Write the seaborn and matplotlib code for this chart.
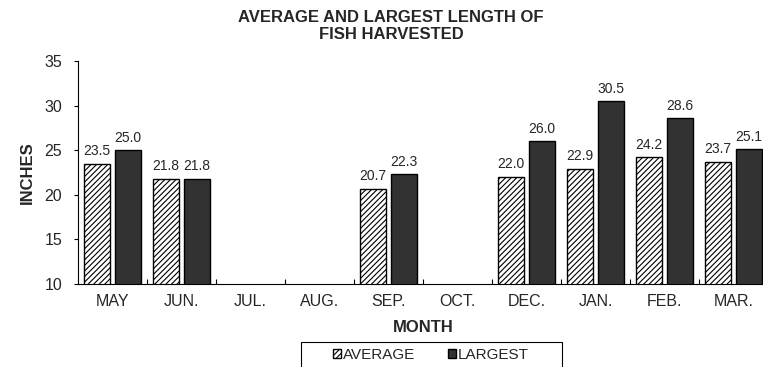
import numpy as np
import pandas as pd
import matplotlib
matplotlib.use("Agg")
import matplotlib.pyplot as plt
import seaborn as sns
from matplotlib.ticker import FixedLocator
from matplotlib.patches import Rectangle

months = ["MAY", "JUN.", "JUL.", "AUG.", "SEP.", "OCT.", "DEC.", "JAN.", "FEB.", "MAR."]
average = [23.5, 21.8, np.nan, np.nan, 20.7, np.nan, 22.0, 22.9, 24.2, 23.7]
largest = [25.0, 21.8, np.nan, np.nan, 22.3, np.nan, 26.0, 30.5, 28.6, 25.1]
series = ["AVERAGE", "LARGEST"]
yticks = [10, 15, 20, 25, 30, 35]

df = pd.DataFrame({
    "MONTH": months * 2,
    "INCHES": average + largest,
    "SERIES": [series[0]] * len(months) + [series[1]] * len(months),
})

sns.set_theme(style="white")
plt.rcParams["font.family"] = ["Liberation Sans", "DejaVu Sans"]
plt.rcParams["hatch.linewidth"] = 0.8

W, H = 763, 367
fig = plt.figure(figsize=(W / 100, H / 100), dpi=100)
ax = fig.add_axes([78 / W, 1 - 284 / H, 690 / W, (284 - 61) / H])

sns.barplot(data=df, x="MONTH", y="INCHES", hue="SERIES", order=months,
            hue_order=series, palette=["white", "#323232"], width=0.894,
            gap=0.172, edgecolor="black", linewidth=1.0, ax=ax,
            legend=False, errorbar=None)

for p in ax.containers[0]:
    p.set_hatch("//////")
    p.set_facecolor("white")

for c in ax.containers:
    ax.bar_label(c, fmt="%.1f", padding=4, fontsize=10)

ax.set_ylim(10, 35)
ax.set_yticks(yticks)
ax.set_xlim(-0.5, len(months) - 0.5)
ax.tick_params(axis="y", which="major", direction="out", length=3, width=0.8,
               left=True, labelsize=11.5, pad=8.5, color="black")
ax.tick_params(axis="x", which="major", length=0, labelsize=11.5, pad=7)
ax.xaxis.set_minor_locator(FixedLocator(np.arange(0.5, len(months) - 0.5, 1)))
ax.tick_params(axis="x", which="minor", direction="in", length=3.5, width=0.8,
               bottom=True, color="black")

for s in ["top", "right"]:
    ax.spines[s].set_visible(False)
for s in ["left", "bottom"]:
    ax.spines[s].set_color("black")
    ax.spines[s].set_linewidth(0.8)

ax.set_xlabel("MONTH", fontsize=12, fontweight="bold", labelpad=8)
ax.set_ylabel("INCHES", fontsize=12, fontweight="bold", labelpad=7)

fig.text(391 / W, 1 - 10 / H, "AVERAGE AND LARGEST LENGTH OF\nFISH HARVESTED",
         ha="center", va="top", fontsize=12, fontweight="bold", linespacing=1.14)

# legend frame (runs past the bottom edge, as in the reference)
fig.patches.append(Rectangle((301 / W, -0.05), (562 - 301) / W, 0.05 + 1 - 342 / H,
                             transform=fig.transFigure, fill=False,
                             edgecolor="black", linewidth=0.8))

handles = [ax.containers[0][0], ax.containers[1][0]]
leg = fig.legend(handles, series, loc="upper left",
                 bbox_to_anchor=(333 / W, 1 - 348 / H), ncol=2,
                 fontsize=11, frameon=False,
                 handlelength=0.52, handleheight=0.52, handletextpad=0.15,
                 columnspacing=2.1, borderpad=0, borderaxespad=0)

fig.savefig("out.png", dpi=100)
